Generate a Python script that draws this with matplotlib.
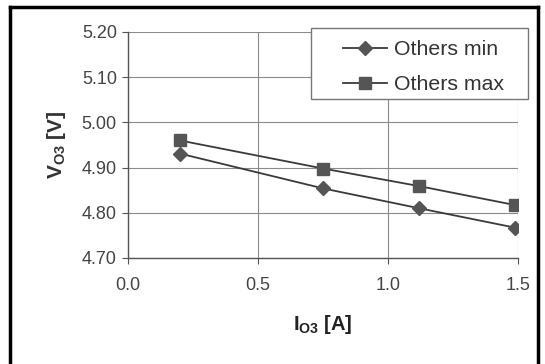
import matplotlib
matplotlib.use("Agg")
import matplotlib.pyplot as plt
from matplotlib.lines import Line2D
from matplotlib.patches import Rectangle

plt.rcParams['font.family'] = ['Liberation Sans', 'DejaVu Sans']
plt.rcParams['mathtext.fontset'] = 'custom'
plt.rcParams['mathtext.rm'] = 'Liberation Sans'
plt.rcParams['mathtext.bf'] = 'Liberation Sans:bold'

current = [0.20, 0.75, 1.12, 1.49]
others_min = [4.931, 4.854, 4.810, 4.767]
others_max = [4.960, 4.898, 4.859, 4.817]
x_ticks = [0.0, 0.5, 1.0, 1.5]
y_ticks = [4.70, 4.80, 4.90, 5.00, 5.10, 5.20]

W, H = 545, 364
fig = plt.figure(figsize=(W / 100, H / 100), dpi=100)
ax = fig.add_axes([128 / W, 1 - 258 / H, (518 - 128) / W, (258 - 32) / H])

line_c = '#3a3a3a'
mk_c = '#555555'
ax.plot(current, others_min, color=line_c, lw=1.3, marker='D', ms=7,
        mfc=mk_c, mec=mk_c, label='Others min', zorder=3)
ax.plot(current, others_max, color=line_c, lw=1.3, marker='s', ms=9,
        mfc=mk_c, mec=mk_c, label='Others max', zorder=3)

ax.set_xlim(0, 1.5)
ax.set_ylim(4.70, 5.20)
ax.set_xticks(x_ticks)
ax.set_xticklabels([f'{v:.1f}' for v in x_ticks])
ax.set_yticks(y_ticks)
ax.set_yticklabels([f'{v:.2f}' for v in y_ticks])
ax.grid(True, color='#8a8a8a', lw=0.8)
ax.set_axisbelow(True)
for s in ['top', 'right']:
    ax.spines[s].set_visible(False)
for s in ['left', 'bottom']:
    ax.spines[s].set_color('#555555')
    ax.spines[s].set_linewidth(1.0)
ax.tick_params(axis='both', colors='#555555', labelcolor='#444444',
               labelsize=13, length=4, direction='out', width=0.8)
ax.tick_params(axis='x', pad=10)
ax.tick_params(axis='y', pad=4)

ax.set_xlabel(r'$\mathbf{I_{O3}}$ [A]', fontsize=14.5, fontweight='bold',
              color='#222222', labelpad=13)
ax.set_ylabel(r'$\mathbf{V_{O3}}$ [V]', fontsize=15, fontweight='bold',
              color='#333333', labelpad=10)

# legend box (frame drawn separately)
fig.add_artist(Rectangle((311 / W, 1 - 99 / H), (528 - 311) / W, (99 - 28) / H,
                         transform=fig.transFigure, facecolor='white',
                         edgecolor='#777777', lw=1.0, zorder=4))
leg = fig.legend(loc='upper left', bbox_to_anchor=(343 / W, 1 - 40 / H),
                 borderaxespad=0, fontsize=15.3, frameon=False,
                 handlelength=2.05, borderpad=0, labelspacing=0.75,
                 handletextpad=0.33)
leg.set_zorder(5)
for t in leg.get_texts():
    t.set_color('#333333')

# outer frame
kw = dict(color='black', lw=2.5, transform=fig.transFigure)
fig.add_artist(Line2D([10 / W, 10 / W], [0, 1 - 7 / H], **kw))
fig.add_artist(Line2D([10 / W, 538 / W], [1 - 7 / H, 1 - 7 / H], **kw))
fig.add_artist(Line2D([538 / W, 538 / W], [0, 1 - 7 / H], **kw))

fig.savefig('out.png', dpi=100, facecolor='white')
